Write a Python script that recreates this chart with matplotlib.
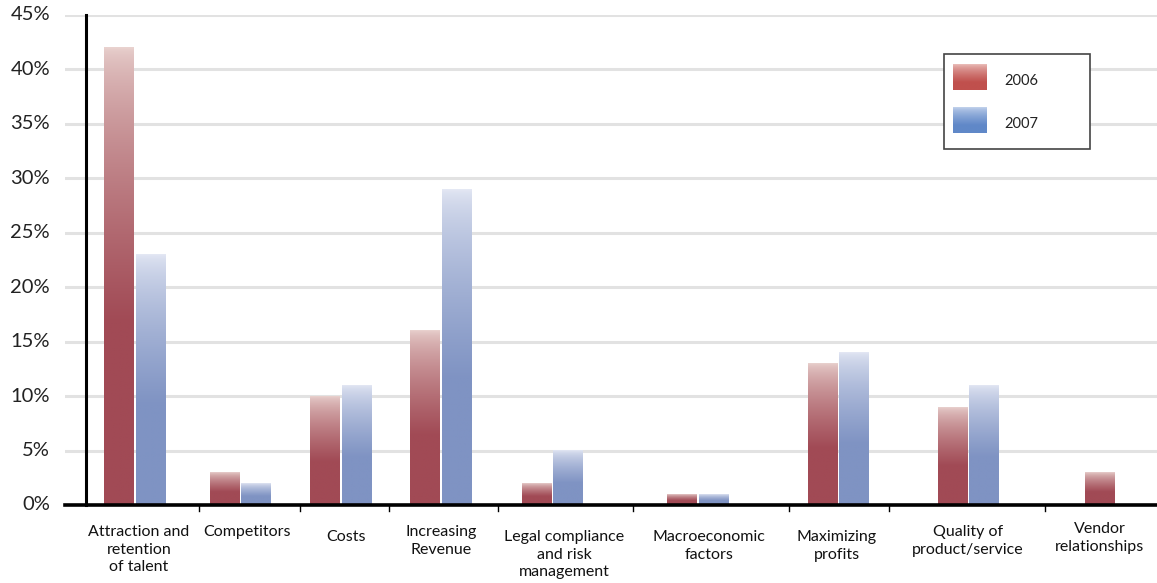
import numpy as np
import matplotlib.pyplot as plt
from matplotlib.patches import Rectangle

plt.rcParams['font.family'] = ['Lato', 'DejaVu Sans']

# survey shares (%) per category
categories = ['Attraction and\nretention\nof talent', 'Competitors', 'Costs',
              'Increasing\nRevenue', 'Legal compliance\nand risk\nmanagement',
              'Macroeconomic\nfactors', 'Maximizing\nprofits',
              'Quality of\nproduct/service', 'Vendor\nrelationships']
values_2006 = [42, 3, 10, 16, 2, 1, 13, 9, 3]
values_2007 = [23, 2, 11, 29, 5, 1, 14, 11, 0]
years = ['2006', '2007']
yticks = [0, 5, 10, 15, 20, 25, 30, 35, 40, 45]

# layout (x in pixel units of the canvas)
group_x = [135, 240.5, 341, 441, 552.5, 698, 838.5, 968.5, 1116]
label_x = [139, 247, 346, 441, 564, 709, 837, 968, 1100]
label_y = [-1.85, -1.85, -2.3, -1.85, -2.3, -2.3, -2.3, -1.85, -1.6]
separators = [199, 300, 389, 498, 633, 789, 889, 1045]
bar_w = 30
gap = 1.5

W, H = 1157, 583
fig = plt.figure(figsize=(W / 100, H / 100), dpi=100)
ax = fig.add_axes([65 / W, (H - 505) / H, 1 - 65 / W, 490 / H])
ax.set_xlim(65, W)
ax.set_ylim(0, 45)
for s in ax.spines.values():
    s.set_visible(False)
ax.set_xticks([])
ax.set_yticks([])

for v in yticks[1:]:
    ax.axhline(v, color='#e2e2e2', lw=2.2, zorder=0)


def gradient_cmap(top, dark, n=256, stop=0.6):
    d = np.linspace(0, 1, n)
    t = np.clip(d / stop, 0, 1) ** 0.65
    top = np.array(top) / 255.0
    dark = np.array(dark) / 255.0
    return top[None, :] * (1 - t[:, None]) + dark[None, :] * t[:, None]


red_grad = gradient_cmap((233, 210, 207), (161, 74, 85))
blue_grad = gradient_cmap((228, 232, 244), (127, 147, 195))


def grad_bars(xs, vals, grad):
    bars = ax.bar(xs, vals, width=bar_w, color='none', zorder=2)
    for b in bars:
        if b.get_height() <= 0:
            continue
        x0, y0 = b.get_x(), b.get_y()
        img = grad[:, None, :]
        ax.imshow(img, extent=[x0, x0 + b.get_width(), y0, y0 + b.get_height()],
                  aspect='auto', interpolation='bilinear', zorder=2)


x = np.array(group_x)
grad_bars(x - gap / 2 - bar_w / 2, values_2006, red_grad)
grad_bars(x + gap / 2 + bar_w / 2, values_2007, blue_grad)
ax.set_xlim(65, W)
ax.set_ylim(0, 45)

# axis lines
ax.plot([86, 86], [0, 45], color='black', lw=2.2, zorder=4, clip_on=False)
ax.plot([65, W], [0, 0], color='black', lw=2.6, zorder=4, clip_on=False)
for sx in separators:
    ax.plot([sx, sx], [0, -0.55], color='black', lw=1, zorder=4, clip_on=False)

for v in yticks:
    ax.text(50, v, f'{v}%', ha='right', va='center', fontsize=14.5, color='#222222')

for lx, ly, lab in zip(label_x, label_y, categories):
    ax.text(lx, ly, lab, ha='center', va='top', fontsize=11.5, color='#111111',
            linespacing=1.32)

# legend box in canvas pixels
ov = fig.add_axes([0, 0, 1, 1], facecolor='none')
ov.set_xlim(0, W)
ov.set_ylim(H, 0)
ov.axis('off')
ov.add_patch(Rectangle((944, 54), 146, 95, fill=True, facecolor='white',
                       edgecolor='#444444', lw=1.2, zorder=1))
leg_red = gradient_cmap((236, 196, 192), (192, 80, 77), stop=0.7)
leg_blue = gradient_cmap((200, 214, 238), (96, 136, 200), stop=0.7)
for (y0, g, lab) in [(64, leg_red, years[0]), (107, leg_blue, years[1])]:
    ov.imshow(g[:, None, :], extent=[953, 987, y0 + 26, y0], aspect='auto',
              interpolation='bilinear', zorder=2)
    ov.text(1004, y0 + 17, lab, ha='left', va='center', fontsize=10.5, color='#222222')
ov.set_xlim(0, W)
ov.set_ylim(H, 0)

fig.savefig('out.png', dpi=100)
